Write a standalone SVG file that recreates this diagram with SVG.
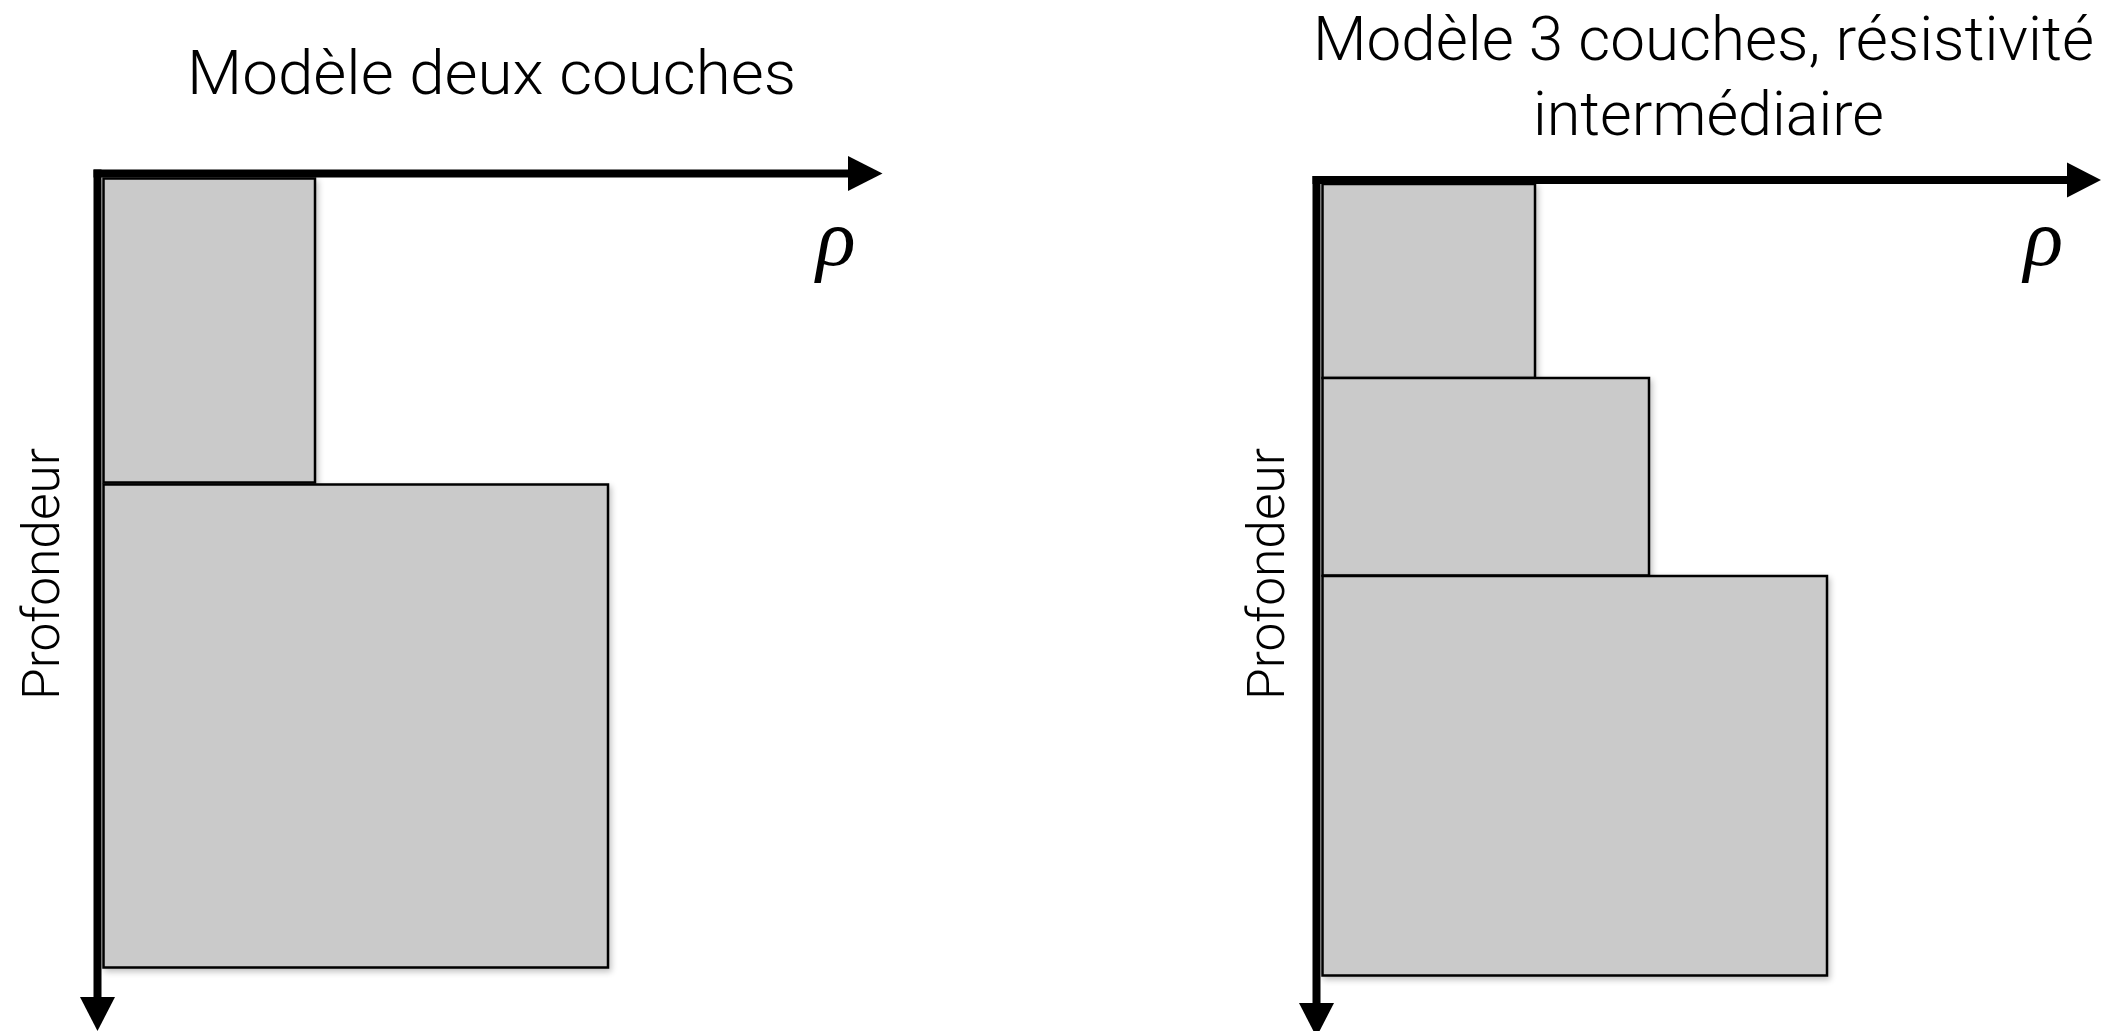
<svg xmlns="http://www.w3.org/2000/svg" width="2122" height="1031" viewBox="0 0 2122 1031">
<style>
.title{font-family:Roboto,"Liberation Sans",sans-serif;font-weight:300;font-size:62px;fill:#000;text-anchor:middle}
.lab{font-family:Roboto,"Liberation Sans",sans-serif;font-weight:300;font-size:52px;fill:#000;text-anchor:middle}
.rho{font-family:"Liberation Serif","DejaVu Serif",serif;font-style:italic;font-size:82px;fill:#000;text-anchor:middle}
.layer{fill:#cacaca;stroke:#000;stroke-width:2.5;filter:url(#sh)}
.axis{stroke:#000;stroke-width:8;fill:none;stroke-linecap:butt}
.head{fill:#000}
</style>
<defs>
<filter id="sh" x="-10%" y="-10%" width="130%" height="130%">
<feGaussianBlur in="SourceAlpha" stdDeviation="3"/>
<feOffset dx="2" dy="3" result="b"/>
<feComponentTransfer><feFuncA type="linear" slope="0.25"/></feComponentTransfer>
<feMerge><feMergeNode/><feMergeNode in="SourceGraphic"/></feMerge>
</filter>
</defs>
<rect width="2122" height="1031" fill="#fff"/>
<g id="left-model">
<text class="title" x="491.5" y="94" textLength="609" lengthAdjust="spacingAndGlyphs">Modèle deux couches</text>
<g id="left-layer1"><rect class="layer" x="103.5" y="178.5" width="211.5" height="304"/></g>
<g id="left-layer2"><rect class="layer" x="103.5" y="484.5" width="504.5" height="483"/></g>
<text class="rho" x="836" y="265">ρ</text>
<text class="lab" transform="translate(59,574) rotate(-90)" textLength="252" lengthAdjust="spacingAndGlyphs">Profondeur</text>
</g>
<g id="right-model">
<text class="title" x="1703.5" y="60" textLength="781" lengthAdjust="spacingAndGlyphs">Modèle 3 couches, résistivité</text>
<text class="title" x="1708.5" y="135" textLength="351" lengthAdjust="spacingAndGlyphs">intermédiaire</text>
<g id="right-layer1"><rect class="layer" x="1322.5" y="184" width="212.5" height="194"/></g>
<g id="right-layer2"><rect class="layer" x="1322.5" y="378" width="326.5" height="197.5"/></g>
<g id="right-layer3"><rect class="layer" x="1322.5" y="576" width="504.5" height="399.5"/></g>
<text class="rho" x="2043.5" y="265">ρ</text>
<text class="lab" transform="translate(1284,574) rotate(-90)" textLength="252" lengthAdjust="spacingAndGlyphs">Profondeur</text>
</g>
<g id="connectors">
<line class="axis" x1="93.5" y1="173.5" x2="850" y2="173.5"/>
<polygon class="head" points="848,156 882.5,173.5 848,191"/>
<line class="axis" x1="97.5" y1="169.5" x2="97.5" y2="999"/>
<polygon class="head" points="80,997 97.5,1031 115,997"/>
<line class="axis" x1="1312.5" y1="180" x2="2069" y2="180"/>
<polygon class="head" points="2067,162.5 2101,180 2067,197.5"/>
<line class="axis" x1="1316.5" y1="176" x2="1316.5" y2="1005"/>
<polygon class="head" points="1299,1003 1316.5,1037 1334,1003"/>
</g>
</svg>
